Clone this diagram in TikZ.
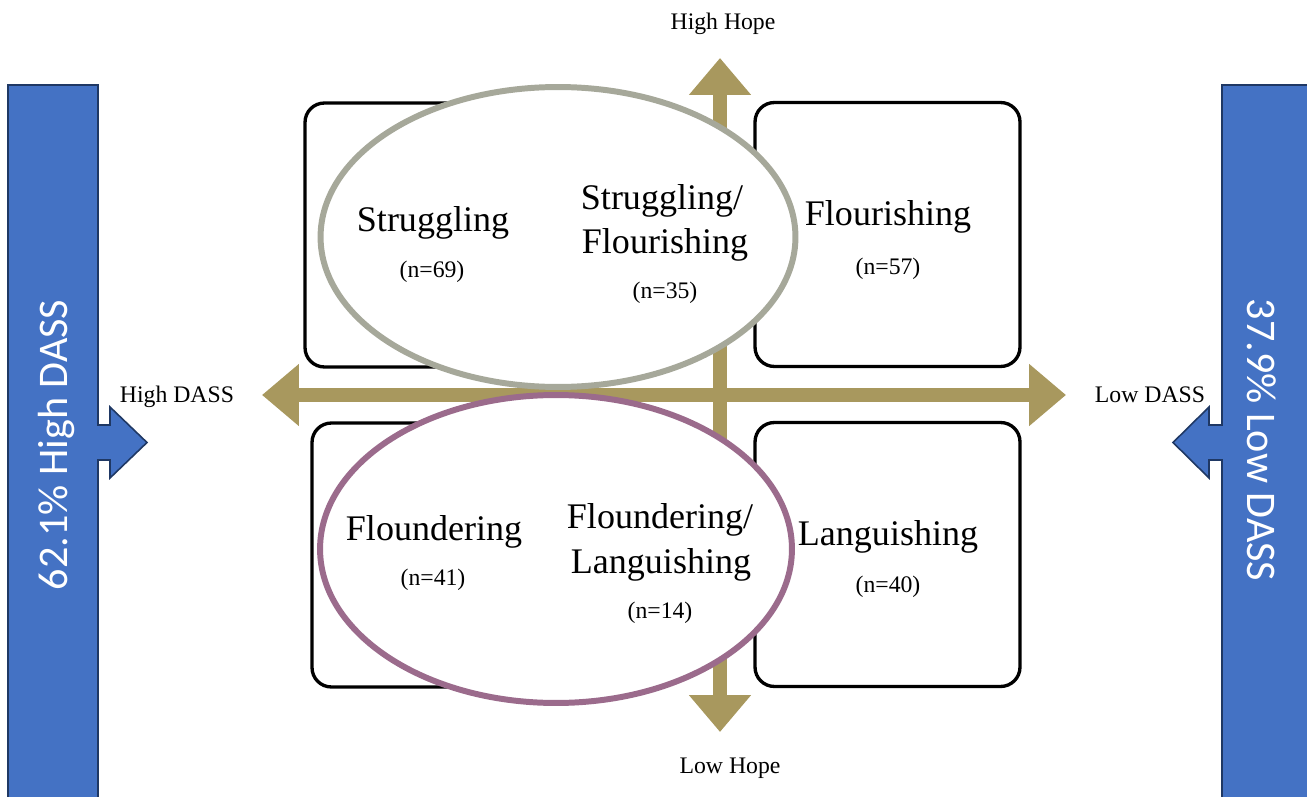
\documentclass[tikz,border=0pt]{standalone}
\usepackage{fontspec}
\setmainfont{Liberation Serif}
\newfontfamily\barfont{Carlito}
\usetikzlibrary{arrows.meta}
\usetikzlibrary{shapes.geometric}

\definecolor{hopegold}{RGB}{168,152,94}
\definecolor{dassblue}{RGB}{68,114,196}
\definecolor{dassnavy}{RGB}{31,56,100}
\definecolor{upperring}{RGB}{166,168,154}
\definecolor{lowerring}{RGB}{155,107,140}

\tikzset{
  quad/.style={draw, line width=1.9pt, rounded corners=11pt, minimum width=5.3cm, minimum height=5.28cm, inner sep=0pt},
  axis/.style={draw=hopegold, line width=8.5pt, {Triangle[length=21pt,width=34pt]}-{Triangle[length=21pt,width=34pt]}},
  ring/.style={ellipse, fill=white, line width=3.4pt, inner sep=0pt},
  bar/.style={fill=dassblue, draw=dassnavy, line width=0.9pt},
  lbl/.style={font=\fontsize{20.5}{24}\selectfont, anchor=base},
  cnt/.style={font=\fontsize{13.5}{15}\selectfont, anchor=base},
  axislbl/.style={font=\fontsize{13.5}{16}\selectfont, anchor=base},
  bartxt/.style={font=\barfont\fontsize{24}{28}\selectfont, text=white}
}

\begin{document}
\begin{tikzpicture}[x=0.02cm, y=-0.02cm]
      \useasboundingbox (0,0) rectangle (1307,797);
      \clip (0,0) rectangle (1307,797);

      \node[quad] (sbox) at (437.5,235) {};
      \node[quad] (fbox) at (887.5,234.5) {};
      \node[quad] (dbox) at (444.5,555) {};
      \node[quad] (lbox) at (887.5,554.5) {};

      \coordinate (hhope) at (720,58);
      \coordinate (lhope) at (720,732);
      \coordinate (hdass) at (262,395);
      \coordinate (ldass) at (1066,395);
      \draw[axis] (hdass) -- (ldass);
      \draw[axis] (lhope) -- (hhope);

      \node[ring, draw=upperring, minimum width=9.5cm, minimum height=6cm] (upper) at (558,237) {};
      \node[ring, draw=lowerring, minimum width=9.44cm, minimum height=6.16cm] (lower) at (556,549) {};

      \node[lbl] (s) at (433,232) {Struggling};
      \node[cnt] (sn) at (432,277) {(n=69)};
      \node[lbl] (sf1) at (662,210) {Struggling/};
      \node[lbl] (sf2) at (665,253) {Flourishing};
      \node[cnt] (sfn) at (665,298) {(n=35)};
      \node[lbl] (f) at (888,225) {Flourishing};
      \node[cnt] (fn) at (888,274) {(n=57)};

      \node[lbl] (d) at (434,540) {Floundering};
      \node[cnt] (dn) at (433,585) {(n=41)};
      \node[lbl] (dl1) at (660,528) {Floundering/};
      \node[lbl] (dl2) at (661,573) {Languishing};
      \node[cnt] (dln) at (660,618) {(n=14)};
      \node[lbl] (l) at (888,545) {Languishing};
      \node[cnt] (ln) at (888,592) {(n=40)};

      \node[axislbl] (hhopelbl) at (723,30) {High Hope};
      \node[axislbl] (lhopelbl) at (730,773) {Low Hope};
      \node[axislbl] (hdasslbl) at (177,402) {High DASS};
      \node[axislbl] (ldasslbl) at (1150,402) {Low DASS};

      \draw[bar] (8,805) -- (8,85) -- (98,85) -- (98,425) -- (110,425) -- (110,407) -- (147,442.5)
        -- (110,478) -- (110,460) -- (98,460) -- (98,805);
      \draw[bar] (1315,85) -- (1222,85) -- (1222,425) -- (1209,425) -- (1209,407) -- (1173,442.5)
        -- (1209,478) -- (1209,460) -- (1222,460) -- (1222,805) -- (1315,805);
      \node[bartxt, rotate=90] (highbar) at (56,445) {62.1\% High DASS};
      \node[bartxt, rotate=-90] (lowbar) at (1262,440) {37.9\% Low DASS};
    \end{tikzpicture}
\end{document}
